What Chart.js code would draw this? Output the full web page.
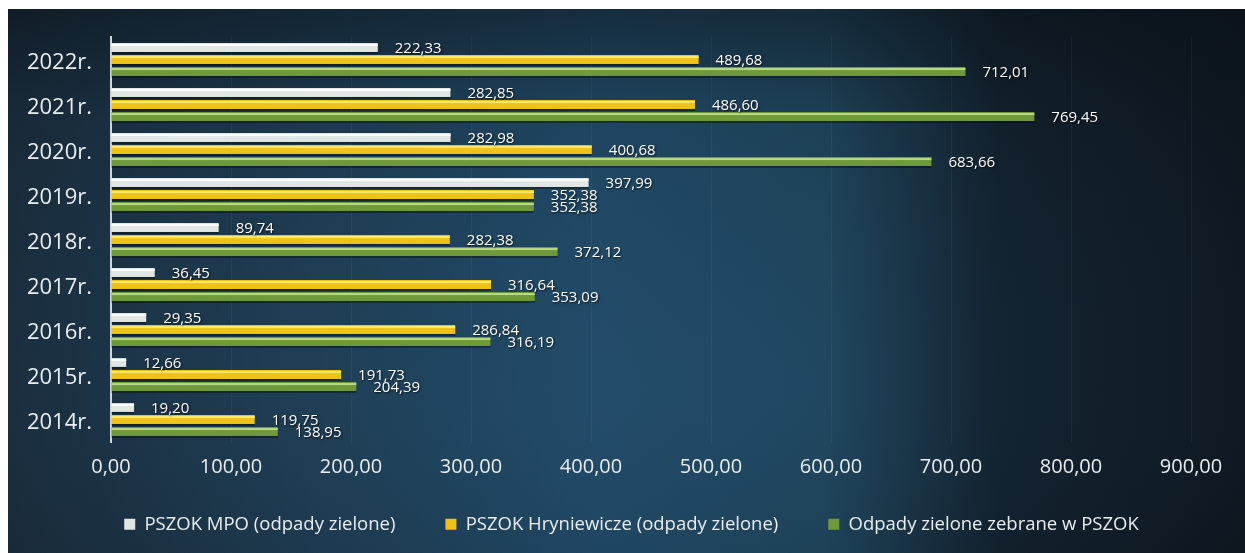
<!DOCTYPE html>
<html>
<head>
<meta charset="utf-8">
<script src="https://cdn.jsdelivr.net/npm/chart.js@4.4.1/dist/chart.umd.min.js"></script>
<style>
html,body{margin:0;padding:0;background:#ffffff;}
#wrap{position:absolute;left:0;top:0;width:1245px;height:553px;}
</style>
</head>
<body>
<div id="wrap"><canvas id="c" width="1245" height="553"></canvas></div>
<script>
const categories = ['2022r.', '2021r.', '2020r.', '2019r.', '2018r.', '2017r.', '2016r.', '2015r.', '2014r.'];
const seriesNames = ['PSZOK MPO (odpady zielone)', 'PSZOK Hryniewicze (odpady zielone)', 'Odpady zielone zebrane w PSZOK'];
const mpo = [222.33, 282.85, 282.98, 397.99, 89.74, 36.45, 29.35, 12.66, 19.20];
const hryniewicze = [489.68, 486.60, 400.68, 352.38, 282.38, 316.64, 286.84, 191.73, 119.75];
const zebrane = [712.01, 769.45, 683.66, 352.38, 372.12, 353.09, 316.19, 204.39, 138.95];
const xTicks = [0, 100, 200, 300, 400, 500, 600, 700, 800, 900];

const fmt = v => v.toFixed(2).replace('.', ',');
const FONT = '"Open Sans", "Liberation Sans", sans-serif';

const bgPlugin = {
  id: 'bg',
  beforeDraw(chart) {
    const ctx = chart.ctx;
    const x0 = 8, y0 = 9, w = chart.width - x0, h = chart.height - y0;
    ctx.save();
    const g = ctx.createLinearGradient(x0, 0, chart.width, 0);
    g.addColorStop(0, '#1a2d3d');
    g.addColorStop(0.25, '#1f3e55');
    g.addColorStop(0.48, '#224c6a');
    g.addColorStop(0.66, '#20475f');
    g.addColorStop(0.8, '#13222f');
    g.addColorStop(1, '#0e1720');
    ctx.fillStyle = g;
    ctx.fillRect(x0, y0, w, h);
    const v = ctx.createLinearGradient(0, y0, 0, chart.height);
    v.addColorStop(0, 'rgba(8,14,20,0.5)');
    v.addColorStop(0.2, 'rgba(8,14,20,0.12)');
    v.addColorStop(0.7, 'rgba(40,80,110,0.04)');
    v.addColorStop(1, 'rgba(8,14,20,0.1)');
    ctx.fillStyle = v;
    ctx.fillRect(x0, y0, w, h);
    ctx.restore();
  }
};

const legendFix = {
  id: 'legendFix',
  beforeLayout(chart) {
    const lg = chart.legend;
    if (lg && !lg._fixed) {
      const f = lg.fit;
      lg.fit = function () { f.call(this); this.height = 74; };
      lg._fixed = true;
    }
  },
  afterLayout(chart) {
    const lg = chart.legend;
    if (!lg) return;
    lg.left += 36; lg.right += 36;
    lg.top -= 14; lg.bottom -= 14;
  }
};

const barStyle = {
  id: 'barStyle',
  afterDatasetsDraw(chart) {
    const ctx = chart.ctx;
    ctx.save();
    chart.data.datasets.forEach((ds, di) => {
      const meta = chart.getDatasetMeta(di);
      meta.data.forEach((bar) => {
        const top = bar.y - bar.height / 2;
        const left = bar.base;
        const len = bar.x - bar.base;
        ctx.fillStyle = ds.highlight;
        ctx.fillRect(left, top + 1, len, 2);
        ctx.fillStyle = 'rgba(0,0,0,0.35)';
        ctx.fillRect(left, top + bar.height, len, 2);
      });
    });
    ctx.restore();
  }
};

const labelPlugin = {
  id: 'vals',
  afterDatasetsDraw(chart) {
    const ctx = chart.ctx;
    ctx.save();
    ctx.font = '15px ' + FONT;
    ctx.textBaseline = 'middle';
    ctx.textAlign = 'left';
    ctx.shadowColor = 'rgba(0,0,0,0.7)';
    ctx.shadowBlur = 2;
    ctx.shadowOffsetX = 1;
    ctx.shadowOffsetY = 1;
    ctx.fillStyle = '#ffffff';
    chart.data.datasets.forEach((ds, di) => {
      const meta = chart.getDatasetMeta(di);
      meta.data.forEach((bar, i) => {
        ctx.fillText(fmt(ds.data[i]), bar.x + 17, bar.y + 1);
      });
    });
    ctx.restore();
  }
};

new Chart(document.getElementById('c'), {
  type: 'bar',
  data: {
    labels: categories,
    datasets: [
      { label: seriesNames[0], data: mpo, backgroundColor: '#dfe6e4', highlight: 'rgba(255,255,255,0.9)' },
      { label: seriesNames[1], data: hryniewicze, backgroundColor: '#efc21a', highlight: 'rgba(255,236,120,0.9)' },
      { label: seriesNames[2], data: zebrane, backgroundColor: '#6f9a3a', highlight: 'rgba(190,220,140,0.95)' }
    ]
  },
  plugins: [bgPlugin, legendFix, barStyle, labelPlugin],
  options: {
    indexAxis: 'y',
    responsive: false,
    animation: false,
    devicePixelRatio: 1,
    layout: { padding: { left: 0, right: 54, top: 37, bottom: 0 } },
    datasets: { bar: { categoryPercentage: 0.8, barPercentage: 0.74, borderWidth: 0 } },
    scales: {
      x: {
        min: 0, max: 900,
        afterBuildTicks(scale) { scale.ticks = xTicks.map(v => ({ value: v })); },
        afterFit(scale) { scale.height = 37; },
        grid: { color: 'rgba(255,255,255,0.045)', drawTicks: false },
        border: { display: false },
        ticks: { color: '#e8edf0', font: { family: FONT, size: 20 }, padding: 13, callback: v => fmt(v) }
      },
      y: {
        afterFit(scale) { scale.width = 111; },
        grid: { display: false, drawTicks: false },
        border: { display: true, color: '#cfd6da', width: 2 },
        ticks: { color: '#e8edf0', font: { family: FONT, size: 22 }, padding: 19, labelOffset: 3 }
      }
    },
    plugins: {
      legend: {
        position: 'bottom',
        labels: {
          color: '#e8edf0',
          font: { family: FONT, size: 18.5 },
          boxWidth: 11, boxHeight: 11,
          padding: 50
        }
      },
      tooltip: { enabled: false }
    }
  }
});
</script>
</body>
</html>
